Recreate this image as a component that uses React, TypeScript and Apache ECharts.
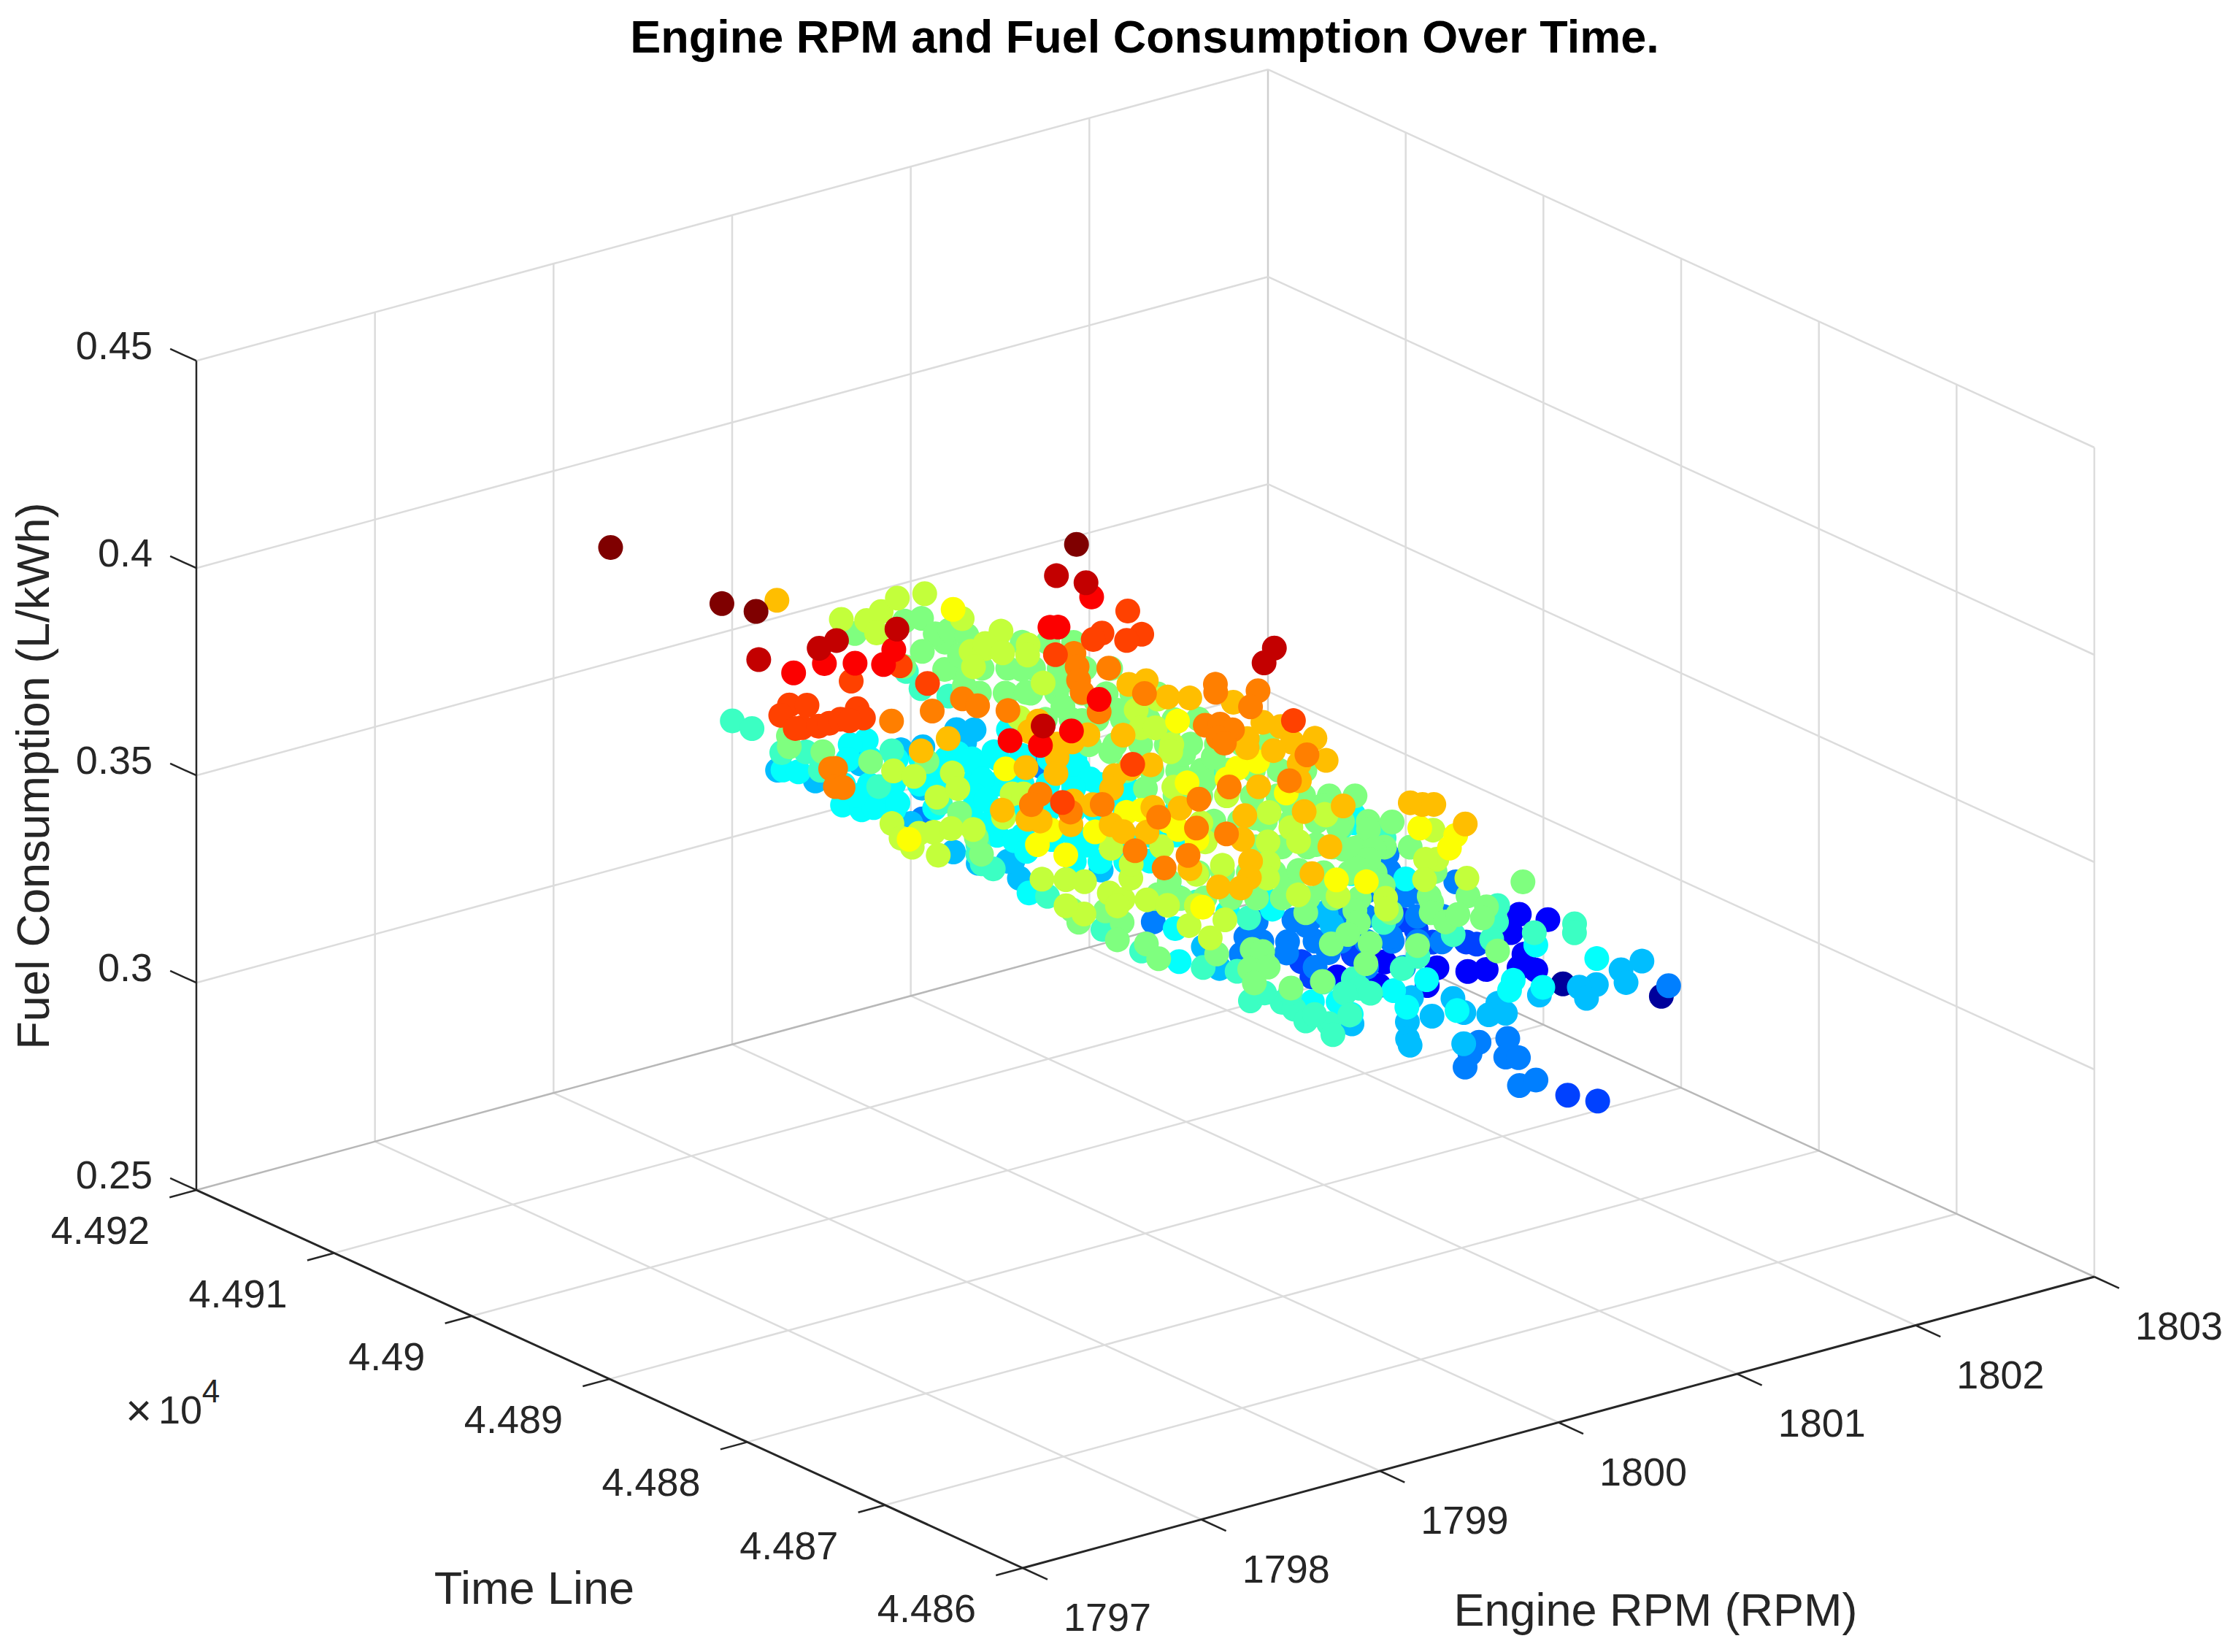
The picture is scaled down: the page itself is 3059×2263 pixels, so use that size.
import React, { useEffect, useRef } from "react";
import * as echarts from "echarts";

// Axis ticks
const rpmTicks = [1797, 1798, 1799, 1800, 1801, 1802, 1803];
const timeTicks = [44860, 44870, 44880, 44890, 44900, 44910, 44920];
const timeTickLabels = ["4.486", "4.487", "4.488", "4.489", "4.49", "4.491", "4.492"];
const fuelTicks = [0.25, 0.3, 0.35, 0.4, 0.45];
const fuelTickLabels = ["0.25", "0.3", "0.35", "0.4", "0.45"];

// Points, grouped by fuel consumption: [Engine RPM, Time]
const fuel0292 = [[1802.28,44882.1],[1802.03,44886.0]];
const fuel0301 = [[1801.02,44889.3],[1801.25,44891.1],[1802.14,44890.6],[1801.97,44889.0],[1802.20,44889.3],[1801.52,44886.3],[1801.60,44886.0],[1801.85,44886.5],[1801.73,44885.3],[1801.77,44884.6],[1801.10,44887.3],[1801.30,44889.5],[1801.27,44886.0],[1801.44,44887.5]];
const fuel0307 = [[1800.74,44887.5],[1800.82,44889.3],[1801.06,44888.6],[1801.50,44890.7],[1801.47,44889.4],[1801.43,44887.7],[1801.55,44886.8],[1801.57,44886.3],[1800.73,44868.8],[1800.79,44867.4]];
const fuel0312Dense = [[1801.42,44892.3],[1801.51,44891.6],[1801.59,44890.9],[1801.04,44891.2],[1801.13,44890.5],[1801.22,44889.8],[1801.31,44889.1],[1801.40,44888.4],[1801.49,44887.7],[1800.66,44890.1],[1800.75,44889.4],[1800.85,44888.7],[1800.94,44888.0],[1801.03,44887.3],[1801.12,44886.6],[1801.21,44885.9],[1801.29,44885.2],[1800.65,44886.1],[1800.83,44884.7],[1800.96,44883.7]];
const fuel0312 = [[1800.41,44911.5],[1801.23,44913.5],[1800.43,44895.0],[1800.79,44892.2],[1800.64,44891.0],[1800.49,44889.4],[1800.66,44888.3],[1800.94,44891.4],[1800.94,44890.5],[1800.81,44887.2],[1801.77,44895.4],[1801.65,44893.7],[1801.80,44890.8],[1801.52,44890.8],[1801.15,44887.1],[1800.78,44873.8],[1800.65,44874.2],[1800.53,44873.3],[1800.41,44872.1],[1800.63,44872.0],[1800.67,44871.6],[1800.46,44868.8],[1800.56,44868.9],[1801.75,44874.7]];
const fuel0318 = [[1800.10,44918.0],[1800.15,44915.9],[1800.44,44916.4],[1800.69,44916.7],[1800.79,44916.4],[1800.16,44909.1],[1800.47,44912.3],[1800.97,44915.7],[1801.10,44916.7],[1801.04,44917.2],[1800.09,44905.1],[1800.09,44903.3],[1800.21,44902.7],[1800.12,44900.7],[1800.23,44902.6],[1800.47,44899.3],[1800.24,44888.9],[1800.13,44886.3],[1800.92,44888.8],[1800.86,44887.6],[1800.93,44889.0],[1800.58,44878.2],[1801.53,44875.3],[1801.45,44873.9],[1801.33,44874.5],[1801.25,44874.7],[1801.19,44873.4],[1801.05,44875.0],[1800.84,44875.3],[1800.72,44874.4],[1800.79,44874.1],[1800.17,44877.2],[1800.72,44877.0],[1800.65,44875.3],[1800.51,44875.8],[1800.38,44875.9],[1800.25,44874.2],[1800.21,44873.5],[1800.41,44872.2],[1801.67,44875.6]];
const fuel0324Dense = [[1800.32,44914.1],[1800.41,44913.4],[1800.50,44912.8],[1800.59,44912.1],[1800.68,44911.4],[1800.77,44910.7],[1800.86,44910.0],[1800.95,44909.3],[1801.04,44908.6],[1800.03,44912.3],[1800.12,44911.6],[1800.21,44911.0],[1800.30,44910.3],[1800.39,44909.6],[1800.48,44908.9],[1800.57,44908.2],[1800.66,44907.5],[1800.75,44906.8],[1800.84,44906.1],[1800.93,44905.4],[1801.02,44904.7],[1800.01,44908.4],[1800.28,44906.3],[1800.37,44905.6],[1800.46,44904.9],[1800.55,44904.2],[1800.64,44903.5],[1800.73,44902.8],[1800.82,44902.1],[1800.91,44901.4],[1801.00,44900.7],[1800.18,44903.1],[1800.27,44902.4],[1800.36,44901.7],[1800.45,44901.0],[1800.54,44900.3],[1800.63,44899.6],[1800.72,44898.9],[1800.81,44898.3],[1800.25,44898.4],[1800.34,44897.7],[1800.43,44897.0],[1800.52,44896.4]];
const fuel0324 = [[1800.45,44916.1],[1800.36,44916.1],[1799.93,44915.4],[1799.97,44914.8],[1800.24,44914.7],[1800.40,44910.8],[1799.87,44910.3],[1799.90,44909.3],[1799.96,44909.2],[1799.99,44910.9],[1800.13,44910.2],[1800.08,44909.0],[1800.17,44907.5],[1800.67,44912.3],[1800.64,44910.5],[1800.65,44911.3],[1800.56,44909.1],[1800.41,44907.7],[1800.41,44906.9],[1800.98,44907.6],[1800.94,44906.2],[1800.20,44902.1],[1800.16,44900.7],[1800.42,44899.7],[1799.85,44896.5],[1800.09,44889.0],[1800.34,44892.0],[1800.40,44889.2],[1800.65,44889.9],[1800.58,44888.3],[1799.85,44885.6],[1800.01,44878.0],[1800.06,44876.4],[1801.59,44895.5],[1801.53,44894.7],[1801.13,44889.7],[1801.28,44887.7],[1800.58,44877.1],[1800.38,44876.9],[1800.30,44874.9],[1800.10,44877.3],[1800.05,44875.7],[1800.45,44873.2],[1800.88,44874.7],[1800.79,44873.8],[1800.93,44873.2],[1801.23,44877.6],[1801.34,44874.6],[1800.81,44911.5],[1800.66,44908.0],[1800.22,44904.5],[1800.65,44905.8],[1800.81,44905.7],[1800.72,44903.0],[1800.88,44910.4],[1800.34,44901.2],[1800.51,44904.5],[1801.03,44913.3],[1800.55,44899.7],[1800.93,44903.6],[1800.92,44901.4]];
const fuel0329 = [[1799.97,44919.6],[1799.98,44918.3],[1799.90,44915.1],[1799.99,44914.5],[1799.90,44912.3],[1799.98,44909.1],[1800.30,44912.3],[1800.07,44905.8],[1800.96,44919.8],[1800.88,44917.7],[1800.92,44916.2],[1799.88,44900.6],[1799.81,44899.7],[1799.75,44898.6],[1799.75,44897.8],[1799.73,44893.6],[1799.67,44888.8],[1799.64,44885.6],[1799.73,44882.3],[1799.82,44881.0],[1800.27,44886.0],[1799.64,44877.7],[1799.74,44876.7],[1799.73,44875.7],[1799.68,44874.2],[1799.74,44873.3],[1799.67,44872.1],[1801.28,44901.9],[1800.21,44889.0],[1801.29,44892.5],[1801.40,44891.1],[1801.36,44890.3],[1800.71,44881.9],[1800.86,44878.8],[1801.11,44878.9],[1801.24,44880.5],[1800.96,44877.3],[1800.57,44877.6],[1801.16,44876.8],[1801.37,44876.6],[1801.30,44875.7],[1800.42,44876.8],[1800.04,44877.6],[1800.17,44877.1],[1800.12,44876.0],[1799.75,44878.1],[1799.84,44877.4],[1800.03,44875.9],[1800.12,44875.2],[1799.76,44874.6],[1799.88,44873.6]];
const fuel0335Dense = [[1801.13,44919.2],[1801.22,44918.5],[1801.31,44917.8],[1801.40,44917.1],[1801.49,44916.4],[1801.58,44915.7],[1800.97,44916.3],[1801.06,44915.6],[1801.15,44914.9],[1801.24,44914.2],[1801.33,44913.5],[1801.42,44912.8],[1801.51,44912.1],[1800.86,44913.2],[1800.95,44912.5],[1801.04,44911.8],[1801.13,44911.1],[1801.22,44910.4],[1801.30,44909.7],[1801.39,44909.0],[1801.48,44908.3],[1800.89,44908.8],[1800.98,44908.1],[1801.07,44907.4],[1801.16,44906.7],[1801.25,44906.0],[1801.34,44905.3],[1801.43,44904.7],[1800.85,44905.1],[1800.94,44904.4],[1801.03,44903.7],[1801.12,44903.0],[1801.21,44902.4],[1801.30,44901.7],[1801.39,44901.0],[1801.48,44900.3],[1800.78,44901.5],[1800.87,44900.8],[1800.96,44900.1],[1801.05,44899.5],[1801.14,44898.8],[1801.23,44898.1],[1801.32,44897.4],[1801.41,44896.7],[1800.76,44897.7],[1800.85,44897.0],[1800.94,44896.3],[1801.03,44895.6],[1801.12,44894.9],[1801.21,44894.2],[1801.30,44893.5],[1801.39,44892.8],[1800.70,44894.1],[1800.79,44893.4],[1800.88,44892.7],[1800.97,44892.0],[1801.06,44891.3],[1801.15,44890.6],[1801.24,44889.9],[1801.32,44889.2],[1800.65,44890.4],[1800.74,44889.7],[1800.83,44889.0],[1800.92,44888.3],[1801.01,44887.6],[1801.10,44886.9],[1801.19,44886.2],[1800.25,44889.4],[1800.34,44888.8],[1800.43,44888.1],[1800.52,44887.4],[1800.61,44886.7],[1800.69,44886.0],[1800.78,44885.3],[1800.87,44884.6],[1799.90,44888.0],[1799.99,44887.3],[1800.08,44886.7],[1800.17,44886.0],[1800.26,44885.3],[1800.35,44884.6],[1800.44,44883.9],[1800.53,44883.2],[1800.62,44882.5]];
const fuel0335 = [[1801.15,44922.4],[1801.23,44922.2],[1800.88,44922.5],[1801.16,44920.3],[1801.24,44920.3],[1801.26,44919.3],[1800.98,44918.9],[1800.92,44916.5],[1801.08,44917.5],[1800.86,44914.3],[1800.80,44917.9],[1799.86,44914.1],[1799.78,44913.0],[1799.86,44911.6],[1800.15,44907.8],[1799.95,44909.3],[1799.87,44901.8],[1799.74,44898.9],[1799.63,44897.1],[1801.19,44914.4],[1801.21,44911.9],[1800.95,44912.4],[1801.03,44912.0],[1801.05,44909.6],[1801.01,44907.7],[1800.87,44903.8],[1801.21,44907.8],[1801.26,44906.9],[1801.11,44901.6],[1801.19,44900.5],[1799.52,44889.1],[1799.45,44887.7],[1799.63,44888.1],[1799.60,44886.5],[1799.45,44884.9],[1799.94,44888.3],[1799.52,44883.7],[1799.45,44881.9],[1799.69,44880.8],[1799.85,44880.3],[1799.87,44879.8],[1799.69,44878.4],[1799.77,44878.1],[1799.60,44876.9],[1799.85,44875.2],[1799.69,44875.4],[1800.32,44882.5],[1800.17,44878.7],[1800.49,44886.2],[1800.62,44886.9],[1800.08,44889.3],[1800.88,44889.0],[1801.20,44892.7],[1801.09,44890.1],[1801.18,44889.1],[1800.94,44887.8],[1800.98,44887.6],[1801.05,44887.0],[1800.95,44886.1],[1801.09,44883.1],[1801.32,44879.7],[1800.84,44880.1],[1800.57,44884.4],[1800.80,44883.1],[1800.51,44881.4],[1800.43,44880.1],[1800.62,44880.2],[1800.88,44880.8],[1800.76,44879.1],[1801.02,44879.8],[1800.74,44877.8],[1800.84,44878.2],[1801.00,44878.2],[1800.90,44877.2],[1800.30,44879.2],[1800.31,44877.7],[1800.46,44876.2],[1800.70,44873.5],[1800.14,44875.8],[1801.24,44904.4],[1800.97,44898.3],[1800.71,44899.2],[1801.11,44893.8],[1800.87,44893.3],[1800.84,44885.5],[1801.21,44909.3]];
const fuel0341 = [[1800.75,44921.8],[1800.83,44921.0],[1800.95,44921.5],[1801.11,44922.4],[1801.24,44922.1],[1801.18,44918.6],[1800.77,44919.5],[1800.96,44915.1],[1801.03,44915.0],[1800.85,44913.5],[1799.77,44905.3],[1799.80,44904.2],[1799.96,44903.5],[1799.72,44901.5],[1799.86,44901.8],[1799.36,44900.1],[1799.28,44898.4],[1799.38,44898.4],[1799.25,44897.2],[1799.44,44898.1],[1799.53,44898.0],[1799.60,44897.3],[1799.28,44895.7],[1801.22,44916.3],[1801.07,44915.5],[1801.06,44914.1],[1801.21,44914.2],[1801.13,44913.2],[1800.97,44910.0],[1800.62,44907.2],[1801.25,44905.3],[1801.09,44904.8],[1800.97,44902.9],[1801.02,44902.5],[1800.95,44900.4],[1800.89,44899.7],[1800.63,44896.1],[1800.75,44893.8],[1799.80,44897.7],[1800.01,44899.8],[1800.05,44899.5],[1800.45,44891.8],[1800.54,44888.1],[1800.77,44891.0],[1800.73,44888.9],[1800.95,44889.2],[1800.65,44887.3],[1799.94,44891.7],[1800.13,44890.5],[1800.32,44889.8],[1800.20,44887.0],[1799.46,44890.5],[1799.54,44889.8],[1799.59,44889.1],[1799.59,44887.3],[1799.59,44886.3],[1799.67,44885.6],[1799.34,44885.9],[1799.62,44881.9],[1799.79,44881.5],[1799.60,44880.1],[1800.38,44886.0],[1800.26,44884.5],[1800.24,44882.0],[1800.37,44880.8],[1800.04,44886.8],[1799.78,44888.2],[1799.89,44889.6],[1800.95,44889.3],[1801.00,44881.8],[1800.96,44882.1],[1800.96,44879.1],[1800.80,44880.1],[1800.52,44879.3],[1800.44,44878.2],[1801.21,44884.8],[1799.34,44887.2],[1799.52,44885.8],[1799.70,44884.5],[1799.80,44883.7]];
const fuel0346 = [[1801.06,44917.7],[1799.14,44896.0],[1800.99,44900.5],[1800.02,44900.4],[1799.71,44893.1],[1800.11,44892.8],[1800.18,44892.6],[1800.16,44889.7],[1799.55,44892.0],[1799.57,44890.2],[1799.65,44881.3],[1800.96,44894.3],[1800.84,44894.2],[1800.72,44893.4],[1800.55,44894.1],[1800.82,44890.4],[1801.02,44883.3],[1801.09,44881.6],[1800.97,44880.5],[1800.33,44880.4],[1800.42,44879.4],[1800.19,44890.8],[1800.15,44888.2],[1799.85,44891.7]];
const fuel0352 = [[1800.32,44920.9],[1799.67,44902.0],[1799.86,44902.5],[1801.00,44902.9],[1800.91,44903.0],[1800.95,44900.7],[1801.02,44900.0],[1801.14,44898.4],[1800.31,44901.8],[1800.20,44901.0],[1800.38,44899.1],[1800.27,44898.8],[1800.20,44899.0],[1800.10,44897.7],[1799.97,44896.1],[1799.91,44897.5],[1800.50,44898.1],[1800.91,44894.4],[1800.84,44893.5],[1801.09,44895.6],[1801.12,44894.7],[1801.15,44892.6],[1801.04,44892.8],[1800.91,44892.5],[1801.02,44890.1],[1800.90,44890.5],[1800.37,44894.4],[1800.27,44894.6],[1800.16,44894.3],[1800.05,44893.1],[1800.58,44889.3],[1800.77,44888.8],[1799.50,44893.9],[1799.55,44891.8],[1799.52,44892.3],[1799.63,44890.6],[1799.82,44892.9],[1799.86,44892.0],[1800.05,44890.1],[1800.14,44889.3],[1800.31,44886.8],[1799.77,44889.5],[1799.76,44888.5],[1799.84,44887.8],[1800.12,44884.5],[1800.55,44885.6],[1800.73,44885.1],[1800.37,44881.4],[1799.71,44883.0],[1799.98,44882.1],[1799.85,44880.5],[1799.67,44880.4],[1799.74,44879.7],[1800.10,44879.2],[1800.99,44883.6],[1801.02,44883.1],[1801.06,44882.8],[1801.02,44880.0]];
const fuel0357 = [[1799.62,44903.5],[1799.84,44903.4],[1800.04,44903.8],[1800.04,44902.7],[1799.04,44900.4],[1799.06,44900.3],[1798.92,44898.5],[1798.94,44898.2],[1800.78,44905.3],[1800.69,44903.9],[1800.79,44902.9],[1800.59,44902.5],[1800.51,44901.2],[1800.42,44898.8],[1801.14,44896.6],[1801.04,44898.4],[1800.98,44897.6],[1800.99,44895.2],[1800.72,44899.4],[1800.11,44901.4],[1800.69,44894.6],[1800.75,44894.3],[1800.75,44893.4],[1800.64,44893.0],[1800.62,44892.3],[1800.82,44888.9],[1800.56,44886.8],[1800.30,44887.8],[1800.10,44887.4],[1799.58,44892.2],[1799.47,44891.4],[1799.55,44889.6],[1799.72,44889.5],[1799.82,44886.7],[1799.87,44884.6],[1799.93,44883.2],[1799.48,44884.0],[1799.63,44882.1],[1799.45,44881.5]];
const fuel0363 = [[1801.12,44905.8],[1800.86,44904.3],[1800.78,44903.9],[1800.99,44903.1],[1800.89,44902.9],[1800.53,44903.4],[1799.61,44906.3],[1799.90,44906.5],[1799.86,44904.0],[1799.21,44905.6],[1799.27,44905.1],[1799.10,44904.8],[1799.08,44903.0],[1799.05,44903.1],[1799.15,44902.7],[1799.21,44902.7],[1799.28,44902.8],[1799.42,44903.4],[1799.37,44902.3],[1799.30,44902.4],[1800.86,44890.4],[1799.96,44890.4],[1799.42,44888.5]];
const fuel0369 = [[1799.28,44906.2],[1799.46,44906.3],[1799.57,44905.5],[1799.66,44904.6],[1799.81,44905.8],[1800.91,44905.7],[1800.53,44903.8],[1800.56,44903.6],[1800.15,44895.3],[1799.81,44892.9],[1799.59,44892.3],[1799.52,44893.6]];
const fuel0374 = [[1799.52,44906.2],[1799.40,44905.9],[1799.10,44906.4],[1799.82,44905.7],[1800.79,44906.7],[1800.84,44905.2],[1801.00,44893.6],[1800.85,44892.4],[1799.59,44892.1]];
const fuel0380 = [[1799.25,44919.1],[1799.21,44910.5],[1799.27,44908.8],[1800.91,44906.8]];

const fuelGroups: [number, number[][]][] = [
  [0.2925, fuel0292], [0.301, fuel0301], [0.307, fuel0307], [0.3125, fuel0312Dense], [0.3125, fuel0312], [0.318, fuel0318],
  [0.324, fuel0324Dense], [0.324, fuel0324], [0.329, fuel0329], [0.335, fuel0335Dense], [0.335, fuel0335], [0.341, fuel0341], [0.346, fuel0346],
  [0.352, fuel0352], [0.3575, fuel0357], [0.363, fuel0363], [0.369, fuel0369], [0.374, fuel0374], [0.38, fuel0380],
];
const jetColors = ["#00007f", "#0000ff", "#007fff", "#00ffff", "#7fff7f", "#ffff00", "#ff7f00", "#ff0000", "#7f0000"];

// Fixed 3-D view: axis values -> plane of the picture
const project = (rpm: number, time: number, fuel: number): [number, number] => {
  const a = rpm - 1797;
  const b = (time - 44860) / 10;
  return [1401 + 244.67 * a - 188.67 * b, 2148 - 66.5 * a - 86.3 * b - 5680 * (fuel - 0.25)];
};

const FONT = "'Liberation Sans', Arial, sans-serif";
const INK = "#262626";

export default function App() {
  const ref = useRef<HTMLDivElement>(null);
  useEffect(() => {
    document.body.style.margin = "0";
    const chart = echarts.init(ref.current!, null, { renderer: "svg" });

    const rMin = rpmTicks[0], rMax = rpmTicks[rpmTicks.length - 1];
    const tMin = timeTicks[0], tMax = timeTicks[timeTicks.length - 1];
    const zMin = fuelTicks[0], zMax = fuelTicks[fuelTicks.length - 1];

    const seg = (p: [number, number, number], q: [number, number, number], color: string, width = 2) => ({
      type: "line", silent: true, showSymbol: false, animation: false, z: 1, clip: false,
      lineStyle: { color, width }, data: [project(...p), project(...q)],
    });
    const GRID = "#dcdcdc", EDGE = "#b8b8b8";
    const lines: any[] = [];
    rpmTicks.forEach((r) => {
      if (r !== rMin && r !== rMax) lines.push(seg([r, tMin, zMin], [r, tMax, zMin], GRID, 2.5));
      if (r !== rMin) lines.push(seg([r, tMax, zMin], [r, tMax, zMax], r === rMax ? "#cfcfcf" : GRID, 2.5));
    });
    timeTicks.forEach((t) => {
      if (t !== tMin && t !== tMax) lines.push(seg([rMin, t, zMin], [rMax, t, zMin], GRID, 2.5));
      if (t !== tMax) lines.push(seg([rMax, t, zMin], [rMax, t, zMax], GRID, 2.5));
    });
    fuelTicks.forEach((z) => {
      const c = z === zMin ? EDGE : GRID;
      lines.push(seg([rMin, tMax, z], [rMax, tMax, z], c, 2.5));
      lines.push(seg([rMax, tMax, z], [rMax, tMin, z], c, 2.5));
    });
    // Dark axes and ticks
    lines.push(seg([rMin, tMin, zMin], [rMax, tMin, zMin], INK, 3));
    lines.push(seg([rMin, tMin, zMin], [rMin, tMax, zMin], INK, 3));
    lines.push(seg([rMin, tMax, zMin], [rMin, tMax, zMax], INK, 2.5));
    rpmTicks.forEach((r) => lines.push(seg([r, tMin, zMin], [r, tMin - 1.8, zMin], INK, 2.5)));
    timeTicks.forEach((t) => lines.push(seg([rMin, t, zMin], [rMin - 0.15, t, zMin], INK, 2.5)));
    fuelTicks.forEach((z) => lines.push(seg([rMin, tMax, z], [rMin, tMax + 1.9, z], INK, 2.5)));

    const points: number[][] = [];
    fuelGroups.forEach(([fuel, list]) =>
      list.forEach(([rpm, time]) => {
        const [x, y] = project(rpm, time, fuel);
        points.push([x, y, fuel, rpm, time]);
      })
    );

    const tickText = (text: string, x: number, y: number, align: string) => ({
      type: "text", x, y, silent: true, z: 10,
      style: { text, fontSize: 54, fontFamily: FONT, fill: INK, align, verticalAlign: "middle" },
    });
    const graphics: any[] = [];
    fuelTickLabels.forEach((s, i) => {
      const [x, y] = project(rMin, tMax, fuelTicks[i]);
      graphics.push(tickText(s, x - 60, y - 21, "right"));
    });
    timeTickLabels.forEach((s, i) => {
      const [x, y] = project(rMin, timeTicks[i], zMin);
      graphics.push(tickText(s, x - 64, y + 55, "right"));
    });
    rpmTicks.forEach((r) => {
      const [x, y] = project(r, tMin, zMin);
      graphics.push(tickText(String(r), x + 56, y + 67, "left"));
    });
    const label = (text: string, x: number, y: number, rotation = 0, size = 63, weight = "normal") => ({
      type: "text", x, y, rotation, silent: true, z: 10,
      style: { text, fontSize: size, fontWeight: weight, fontFamily: FONT, fill: weight === "bold" ? "#000" : INK, align: "center", verticalAlign: "middle" },
    });
    graphics.push(label("Engine RPM and Fuel Consumption Over Time.", 1568, 50, 0, 63, "bold"));
    graphics.push(label("Fuel Consumption (L/kWh)", 45, 1063, Math.PI / 2));
    graphics.push(label("Time Line", 732, 2175));
    graphics.push(label("Engine RPM (RPM)", 2268, 2205));
    graphics.push(label("×", 190, 1931, 0, 62));
    graphics.push(label("10", 247, 1931, 0, 54));
    graphics.push(label("4", 289, 1905, 0, 44));

    chart.setOption({
      animation: false,
      backgroundColor: "#ffffff",
      grid: { left: 0, right: 0, top: 0, bottom: 0 },
      xAxis: { type: "value", min: 0, max: 3059, show: false },
      yAxis: { type: "value", min: 0, max: 2263, inverse: true, show: false },
      visualMap: {
        show: false, type: "continuous", dimension: 2, min: 0.29, max: 0.38,
        seriesIndex: lines.length, inRange: { color: jetColors },
      },
      series: [
        ...lines,
        {
          type: "scatter", data: points, symbol: "circle", symbolSize: 34, z: 5, clip: false,
          silent: true, animation: false, progressive: 0, large: false, itemStyle: { opacity: 1 },
          encode: { x: 0, y: 1 },
        },
      ],
      graphic: graphics,
    });
    return () => chart.dispose();
  }, []);
  return <div ref={ref} style={{ width: 3059, height: 2263 }} />;
}
